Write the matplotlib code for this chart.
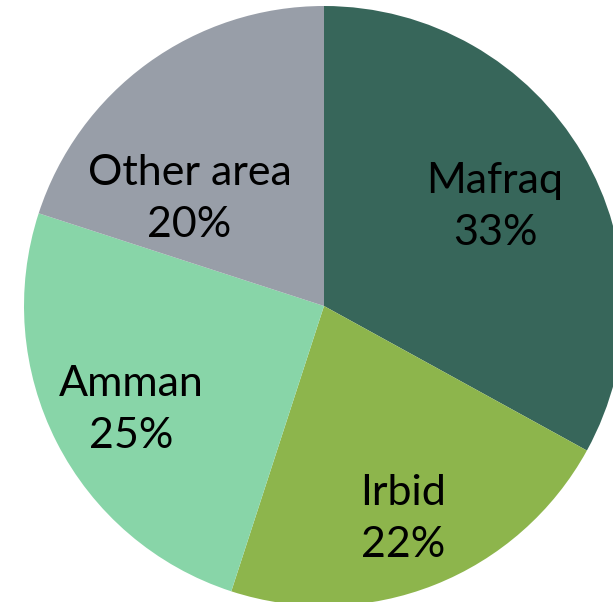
import matplotlib
matplotlib.use("Agg")
import matplotlib.pyplot as plt

regions = ["Mafraq", "Irbid", "Amman", "Other area"]
shares = [33, 22, 25, 20]
colors = ["#37665a", "#8db54c", "#88d5a8", "#989ea8"]

plt.rcParams['font.family'] = ['Lato', 'DejaVu Sans']

fig = plt.figure(figsize=(6.13, 6.02), dpi=100)
ax = fig.add_axes([0, 0, 1, 1])

wedges, texts, autotexts = ax.pie(
    shares, colors=colors, startangle=90, counterclock=False,
    radius=1.0, pctdistance=0.72,
    autopct=lambda p: "",
    wedgeprops=dict(linewidth=0),
)

# label each slice with name and share
for t, name, val in zip(autotexts, regions, shares):
    t.set_text(f"{name}\n{val}%")
    t.set_fontsize(31)
    t.set_color("black")
    t.set_linespacing(1.45)

# nudge labels to sit like the original
shifts = [(-0.05, -0.035), (0.0, -0.04), (0.0, -0.02), (0.0, 0.0)]
for t, (dx, dy) in zip(autotexts, shifts):
    x, y = t.get_position()
    t.set_position((x + dx, y + dy))
x, y = autotexts[3].get_position()
autotexts[3].set_position((x * 1.06, y * 0.61))

ax.set_xlim(-324 / 300, (613 - 324) / 300)
ax.set_ylim(-296 / 300, 306 / 300)
ax.set_aspect("equal")
ax.axis("off")

fig.savefig("out.png", dpi=100)
